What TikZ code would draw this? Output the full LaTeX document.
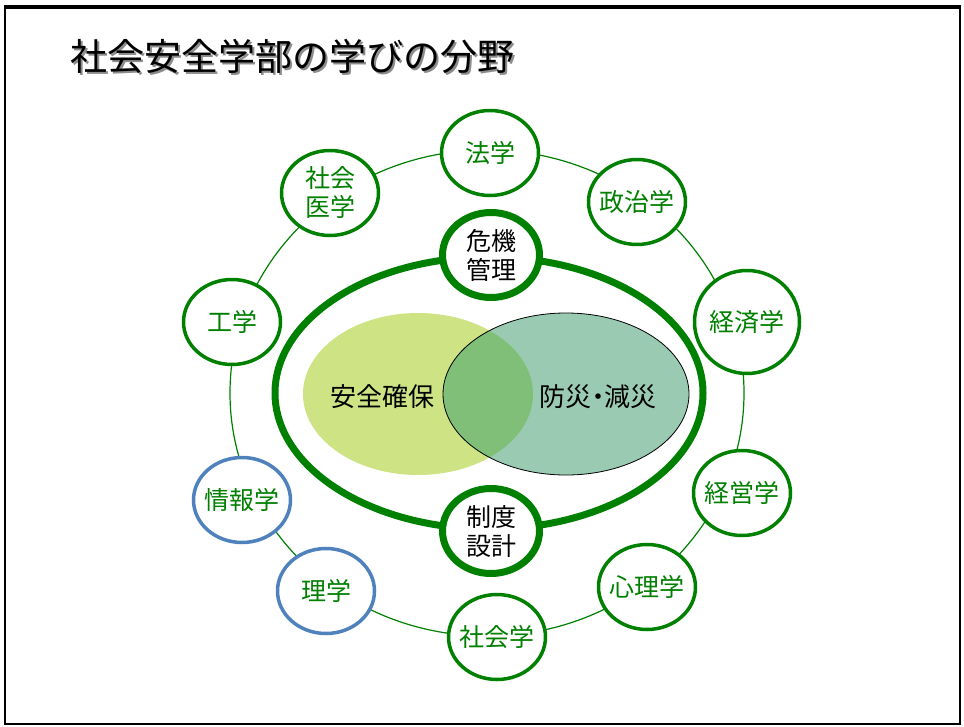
\documentclass[tikz,border=0pt]{standalone}
\usepackage{fontspec}
\setmainfont{Noto Sans CJK JP}
\usetikzlibrary{shapes.geometric}
\definecolor{fieldgreen}{RGB}{0,128,0}
\definecolor{fieldblue}{RGB}{79,129,189}
\definecolor{safelime}{RGB}{205,227,132}
\definecolor{disasterteal}{RGB}{154,203,178}
\definecolor{overlapgreen}{RGB}{128,191,120}
\begin{document}
\begin{tikzpicture}[x=1pt,y=-1pt,
      field/.style={ellipse,draw=fieldgreen,line width=3.5pt,fill=white,
        text=fieldgreen,minimum width=97pt,minimum height=85pt,
        inner xsep=-14pt,inner ysep=0pt,align=center,
        font=\fontsize{25}{29}\selectfont},
      bluefield/.style={field,draw=fieldblue},
      core/.style={field,line width=7pt,text=black},
      venntext/.style={font=\fontsize{26}{30}\selectfont},
      titletext/.style={font=\fontsize{37}{40}\selectfont}]
  \useasboundingbox (0,0) rectangle (964,726);
  \draw[line width=2pt] (5,8) rectangle (960,724);
  \draw[line width=4pt] (4,7) -- (961,7);

  % title with shadow
  \node[titletext,text=black!45] at (294,58) {社会安全学部の学びの分野};
  \node[titletext] (title) at (292,56) {社会安全学部の学びの分野};

  % outer ring and core ellipse
  \draw[fieldgreen,line width=1.2pt] (487,393) ellipse [x radius=257pt,y radius=243pt];
  \draw[fieldgreen,line width=7pt] (489,393) ellipse [x radius=214pt,y radius=136pt];

  % venn
  \fill[safelime] (418,394) ellipse [x radius=115pt,y radius=81pt];
  \fill[disasterteal] (566,394) ellipse [x radius=123pt,y radius=81pt];
  \begin{scope}
    \clip (418,394) ellipse [x radius=115pt,y radius=81pt];
    \fill[overlapgreen] (566,394) ellipse [x radius=123pt,y radius=81pt];
  \end{scope}
  \draw[black,line width=0.8pt] (566,394) ellipse [x radius=123pt,y radius=81pt];
  \node[venntext] (anzen) at (382,397) {安全確保};
  \node[venntext] (bousai) at (598,397) {防災\hspace{-0.25em}・\hspace{-0.25em}減災};

  % fields on the ring
  \node[field] (hogaku) at (490,153) {法学};
  \node[field] (shakaiigaku) at (330,193) {社会\\医学};
  \node[field] (kogaku) at (232,322) {工学};
  \node[field] (seijigaku) at (637,202) {政治学};
  \node[field,minimum width=105pt,minimum height=103pt] (keizaigaku) at (747,322) {経済学};
  \node[field] (keieigaku) at (742,493) {経営学};
  \node[field] (shinrigaku) at (647,587) {心理学};
  \node[field] (shakaigaku) at (497,637) {社会学};
  \node[bluefield] (rigaku) at (326,591) {理学};
  \node[bluefield] (johogaku) at (242,500) {情報学};

  % core nodes
  \node[core] (kikikanri) at (491,255) {危機\\管理};
  \node[core] (seidosekkei) at (491,531) {制度\\設計};
\end{tikzpicture}
\end{document}
